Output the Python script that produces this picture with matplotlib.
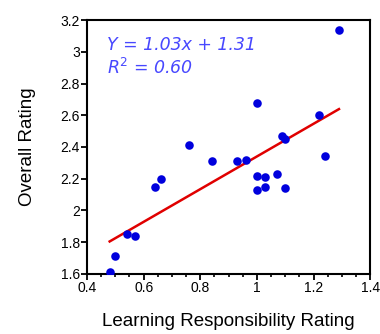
import matplotlib

matplotlib.use("Agg")
import matplotlib.pyplot as plt
from matplotlib.ticker import MultipleLocator

learning_rating = [0.48, 0.50, 0.54, 0.57, 0.64, 0.66, 0.76, 0.84, 0.93, 0.96,
                   1.00, 1.00, 1.00, 1.03, 1.03, 1.07, 1.09, 1.10, 1.10, 1.22,
                   1.24, 1.29]
overall_rating = [1.61, 1.71, 1.85, 1.84, 2.15, 2.20, 2.41, 2.31, 2.31, 2.32,
                  2.68, 2.22, 2.13, 2.21, 2.15, 2.23, 2.47, 2.45, 2.14, 2.60,
                  2.34, 3.14]
slope = 1.03
intercept = 1.31
r_squared = 0.60

plt.rcParams["font.family"] = ["Liberation Sans", "DejaVu Sans"]

fig = plt.figure(figsize=(3.8, 3.34), dpi=100)
ax = fig.add_axes([0.229, 0.180, 0.745, 0.760])

ax.scatter(learning_rating, overall_rating, s=38, color="#0000dd", zorder=3,
           linewidths=0)

x_fit = [min(learning_rating), max(learning_rating)]
y_fit = [slope * v + intercept for v in x_fit]
ax.plot(x_fit, y_fit, color="#e00000", linewidth=1.8, zorder=2)

ax.set_xlim(0.4, 1.4)
ax.set_ylim(1.6, 3.2)
ax.xaxis.set_major_locator(MultipleLocator(0.2))
ax.xaxis.set_minor_locator(MultipleLocator(0.05))
ax.yaxis.set_major_locator(MultipleLocator(0.2))
ax.xaxis.set_major_formatter(lambda v, p: f"{v:g}")
ax.yaxis.set_major_formatter(lambda v, p: f"{v:g}")

for spine in ax.spines.values():
    spine.set_linewidth(1.5)
ax.tick_params(which="major", direction="out", length=4, width=1.3,
               labelsize=10, pad=1)
ax.tick_params(which="minor", direction="out", length=2.5, width=1.2)

ax.set_xlabel("Learning Responsibility Rating", fontsize=13.5, labelpad=13)
ax.set_ylabel("Overall Rating", fontsize=13.5, labelpad=18)

ax.text(0.07, 0.90, f"Y = {slope:.2f}x + {intercept:.2f}", transform=ax.transAxes,
        fontsize=12.5, style="italic", color="#4848ff", family="DejaVu Sans",
        va="center")
ax.text(0.07, 0.81, f"R$^2$ = {r_squared:.2f}", transform=ax.transAxes,
        fontsize=12.5, style="italic", color="#4848ff", family="DejaVu Sans",
        va="center")

fig.savefig("out.png", dpi=100)
